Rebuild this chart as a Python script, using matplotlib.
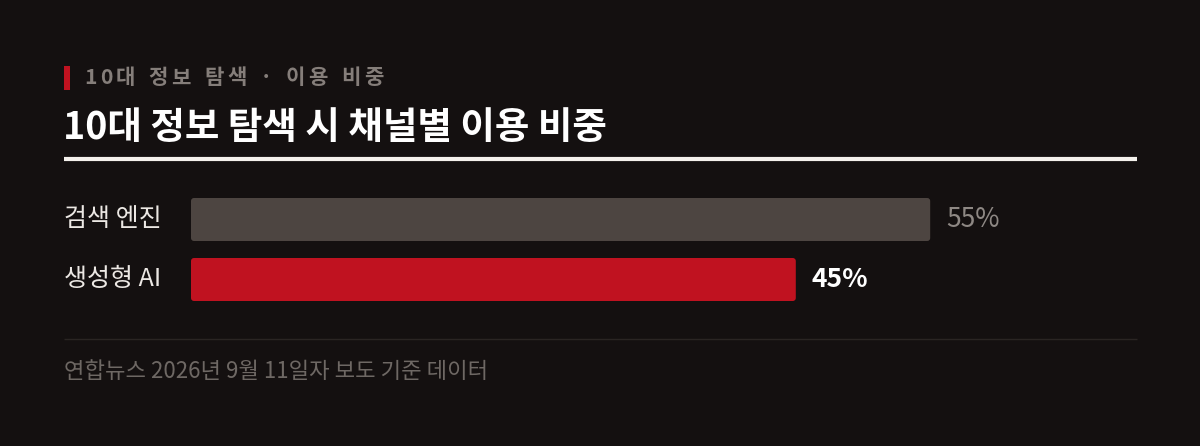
import matplotlib
matplotlib.use('Agg')
import matplotlib.pyplot as plt
from matplotlib.patches import FancyBboxPatch, Rectangle
from matplotlib.lines import Line2D

plt.rcParams['font.family'] = ['Noto Sans CJK KR', 'DejaVu Sans']

# data
channels = ['검색 엔진', '생성형 AI']
shares = [55, 45]
value_labels = ['55%', '45%']
bar_colors = ['#4d4541', '#c01220']
value_colors = ['#8e8884', '#ffffff']
kicker = '10대 정보 탐색 · 이용 비중'
title = '10대 정보 탐색 시 채널별 이용 비중'
source = '연합뉴스 2026년 9월 11일자 보도 기준 데이터'

BG = '#141010'
W, H = 1200, 446

fig = plt.figure(figsize=(W / 100, H / 100), dpi=100, facecolor=BG)


def fx(px):
    return px / W


def fy(py):
    return 1 - py / H


# red marker + kicker with letter spacing
fig.patches.append(Rectangle((fx(64), fy(90)), fx(6), 24 / H, transform=fig.transFigure,
                             facecolor='#c01220', edgecolor='none'))
renderer = fig.canvas.get_renderer()
x = 84
for ch in kicker:
    t = fig.text(fx(x), fy(78), ch, fontsize=15.2, fontweight='bold', color='#857e7a',
                 va='center', ha='left')
    w = t.get_window_extent(renderer).width
    if ch == ' ':
        w = 6
    x += w + 3.6

fig.text(fx(63), fy(127), title, fontsize=27, fontweight='bold', color='#ffffff',
         va='center', ha='left')
fig.add_artist(Line2D([fx(64), fx(1137)], [fy(159), fy(159)], color='#f4f1ec', lw=3,
                      solid_capstyle='butt', transform=fig.transFigure))

# bars: x scale 13.44 px per percent starting at 191px
px_per_pct = 13.44
ax_left, ax_right = 191, 1137
top_px, bot_px = 160, 340
ax = fig.add_axes([fx(ax_left), fy(bot_px), fx(ax_right - ax_left), (bot_px - top_px) / H])
ax.set_facecolor('none')
ax.set_xlim(0, (ax_right - ax_left) / px_per_pct)
row_px = 60
ax.set_ylim(1 + (bot_px - 279.5) / row_px, -(219.5 - top_px) / row_px)
ax.axis('off')

bar_h = 43 / row_px
bars = ax.barh(range(len(channels)), shares, height=bar_h, color=bar_colors)
r = 3 / px_per_pct
aspect = (1 / row_px) / (1 / px_per_pct)
for b, c in zip(bars, bar_colors):
    b.set_visible(False)
    ax.add_patch(FancyBboxPatch((b.get_x(), b.get_y()), b.get_width(), b.get_height(),
                                boxstyle=f'round,pad=0,rounding_size={r}',
                                mutation_aspect=aspect, facecolor=c, edgecolor='none'))

for i, (name, v, lab, vc) in enumerate(zip(channels, shares, value_labels, value_colors)):
    ax.text(-(191 - 64) / px_per_pct, i, name, fontsize=18, color='#ece8e4',
            va='center', ha='left')
    ax.text(v + 16 / px_per_pct, i, lab, fontsize=19, color=vc,
            fontweight='bold' if i == 1 else 'normal', va='center', ha='left')

fig.add_artist(Line2D([fx(64), fx(1137)], [fy(338.5), fy(338.5)], color='#2a2523', lw=1,
                      solid_capstyle='butt', transform=fig.transFigure))
fig.text(fx(64), fy(372), source, fontsize=16, color='#6e6864', va='center', ha='left')

fig.savefig('out.png', dpi=100, facecolor=BG)
